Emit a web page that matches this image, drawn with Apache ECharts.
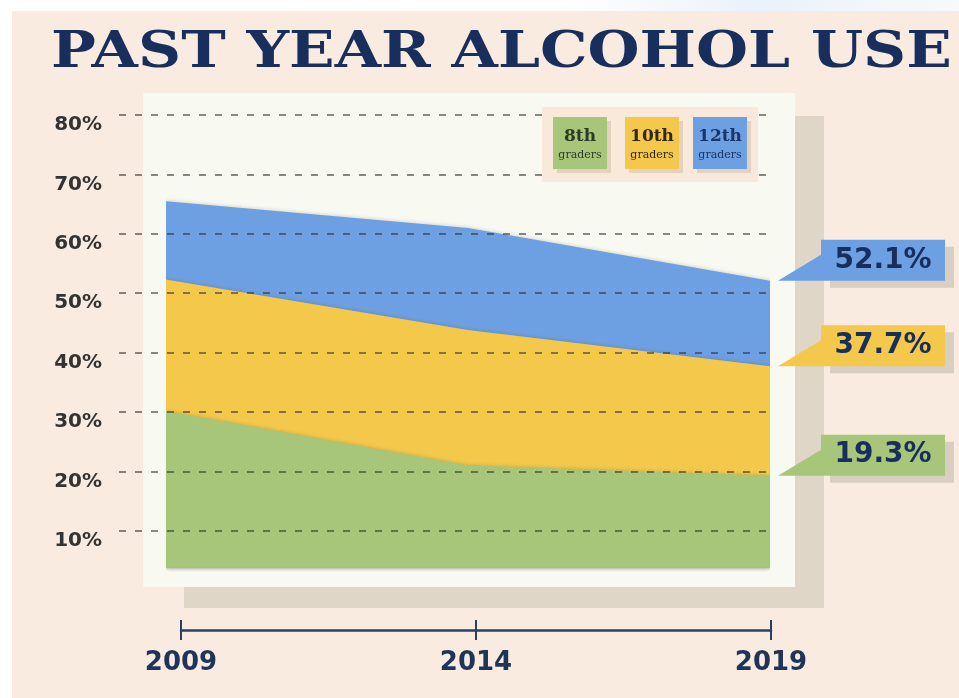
<!DOCTYPE html>
<html>
<head>
<meta charset="utf-8">
<style>
  html, body { margin: 0; padding: 0; background: #ffffff; }
  #chart { width: 959px; height: 698px; }
</style>
<script src="https://cdn.jsdelivr.net/npm/echarts@6/dist/echarts.min.js"></script>
</head>
<body>
<div id="chart"></div>
<script>
// Survey years shown on the timeline
const years = ['2009', '2014', '2019'];

// Share of students reporting alcohol use in the past year (%)
const grade8 = [30.2, 21.0, 19.3];
const grade10 = [52.3, 43.8, 37.7];
const grade12 = [65.5, 61.0, 52.1];

// Legend entries: [ordinal, sub-label]
const legendLabels = [['8th', 'graders'], ['10th', 'graders'], ['12th', 'graders']];

const COLORS = {
  g8: '#a8c679',
  g10: '#f3c84b',
  g12: '#6d9fe3',
  navy: '#182f5d',
  beige: '#f9ebdf',
  panel: '#f8f9f0',
  shadow: '#e0d6c8'
};

const chart = echarts.init(document.getElementById('chart'), null, { renderer: 'canvas' });

// Speech-bubble callout: box with a pointer on its lower-left side
const calloutPath = 'path://M0 41 L43 15 L43 0 L167 0 L167 41 Z';

function callout(values, color) {
  const v = values[values.length - 1];
  return {
    symbolKeepAspect: false,
    data: [
      {
        // drop shadow behind the box
        coord: [years[years.length - 1], v],
        value: v,
        symbol: 'rect',
        symbolSize: [124, 41],
        symbolOffset: [122, -13.5],
        itemStyle: { color: '#d8cec1' },
        label: { show: false }
      },
      {
        coord: [years[years.length - 1], v],
        value: v,
        symbol: calloutPath,
        symbolSize: [167, 41],
        symbolOffset: [91.5, -20.5],
        itemStyle: { color: color },
        label: {
          show: true,
          position: 'inside',
          offset: [21.5, 0],
          formatter: '{c}%',
          color: COLORS.navy,
          fontFamily: 'DejaVu Sans',
          fontWeight: 'bold',
          fontSize: 28
        }
      }
    ]
  };
}

function areaSeries(name, values, color) {
  return {
    name: name,
    type: 'line',
    xAxisIndex: 0,
    yAxisIndex: 0,
    data: values,
    symbol: 'none',
    clip: false,
    lineStyle: { width: 0 },
    areaStyle: {
      color: color,
      opacity: 1,
      origin: 3.8,
      shadowBlur: 4,
      shadowColor: 'rgba(60,50,30,0.25)'
    },
    markPoint: callout(values, color),
    silent: true
  };
}

// Legend tiles (text lives inside the coloured squares)
const legendColors = [COLORS.g8, COLORS.g10, COLORS.g12];
const legendText = ['#2d3a26', '#33280f', '#1b3568'];
const legendX = [553, 625, 693];
const legendEls = [];
legendLabels.forEach((lab, i) => {
  const x = legendX[i];
  legendEls.push({
    type: 'rect', z: 20,
    shape: { x: x + 4, y: 121, width: 54, height: 52 },
    style: { fill: '#e2d2bf' }
  });
  legendEls.push({
    type: 'rect', z: 21,
    shape: { x: x, y: 117, width: 54, height: 52 },
    style: { fill: legendColors[i] }
  });
  legendEls.push({
    type: 'text', z: 22,
    style: {
      text: lab[0], x: x + 27, y: 137,
      align: 'center', verticalAlign: 'middle',
      font: 'bold 17px "DejaVu Serif"', fill: legendText[i]
    }
  });
  legendEls.push({
    type: 'text', z: 22,
    style: {
      text: lab[1], x: x + 27, y: 155,
      align: 'center', verticalAlign: 'middle',
      font: '11px "DejaVu Serif"', fill: legendText[i]
    }
  });
});

const option = {
  backgroundColor: '#ffffff',
  animation: false,
  graphic: [
    // page background
    { type: 'rect', z: -30, shape: { x: 12, y: 11, width: 947, height: 687 }, style: { fill: COLORS.beige } },
    {
      type: 'rect', z: -30, shape: { x: 560, y: 0, width: 399, height: 11 },
      style: {
        fill: new echarts.graphic.LinearGradient(0, 0, 1, 0, [
          { offset: 0, color: 'rgba(235,243,250,0)' },
          { offset: 0.5, color: 'rgba(232,242,250,1)' },
          { offset: 1, color: 'rgba(240,246,250,0.6)' }
        ])
      }
    },
    // title
    {
      type: 'text', z: 5, x: 51, y: 54, scaleX: 1.172,
      style: {
        text: 'PAST YEAR ALCOHOL USE',
        x: 0, y: 0, align: 'left', verticalAlign: 'middle',
        font: 'bold 51px "DejaVu Serif"', fill: COLORS.navy
      }
    },
    // chart panel and its offset shadow
    { type: 'rect', z: -20, shape: { x: 184, y: 116, width: 640, height: 492 }, style: { fill: COLORS.shadow } },
    { type: 'rect', z: -19, shape: { x: 143, y: 93, width: 652, height: 494 }, style: { fill: COLORS.panel } },
    // legend box
    { type: 'rect', z: 19, shape: { x: 542, y: 107, width: 216, height: 75 }, style: { fill: '#f8e9db' } }
  ].concat(legendEls),
  grid: [
    { left: 166, right: 189, top: 115, bottom: 107.6 },
    { left: 119, right: 186, top: 115, bottom: 167.1 },
    { left: 181, right: 188, top: 600, bottom: 68 }
  ],
  xAxis: [
    { gridIndex: 0, type: 'category', data: years, boundaryGap: false, show: false },
    { gridIndex: 1, type: 'value', show: false },
    {
      gridIndex: 2, type: 'category', data: years, boundaryGap: false, position: 'bottom',
      axisLine: { show: true, lineStyle: { color: '#2c3f60', width: 2.5 } },
      axisTick: { show: true, length: 10, lineStyle: { color: '#2c3f60', width: 2 } },
      axisLabel: {
        margin: 20, color: '#1f3459', fontFamily: 'DejaVu Sans', fontWeight: 'bold', fontSize: 26,
        verticalAlign: 'top'
      }
    },
    {
      gridIndex: 2, type: 'category', data: years, boundaryGap: false, position: 'bottom',
      axisLine: { show: false },
      axisTick: { show: true, inside: true, length: 10, lineStyle: { color: '#2c3f60', width: 2 } },
      axisLabel: { show: false }
    }
  ],
  yAxis: [
    { gridIndex: 0, type: 'value', min: 0, max: 80, show: false },
    {
      gridIndex: 1, type: 'value', min: 10, max: 80, interval: 10, z: 10,
      axisLine: { show: false }, axisTick: { show: false },
      axisLabel: {
        margin: 17, formatter: '{value}%', color: '#333333',
        fontFamily: 'DejaVu Sans', fontWeight: 'bold', fontSize: 20,
        verticalAlign: 'top', lineHeight: 20
      },
      splitLine: {
        show: true,
        lineStyle: { type: [7, 9], color: 'rgba(45,45,45,0.75)', width: 1.5 }
      }
    },
    { gridIndex: 2, type: 'value', show: false }
  ],
  series: [
    areaSeries('12th graders', grade12, COLORS.g12),
    areaSeries('10th graders', grade10, COLORS.g10),
    areaSeries('8th graders', grade8, COLORS.g8)
  ]
};

chart.setOption(option);
</script>
</body>
</html>
